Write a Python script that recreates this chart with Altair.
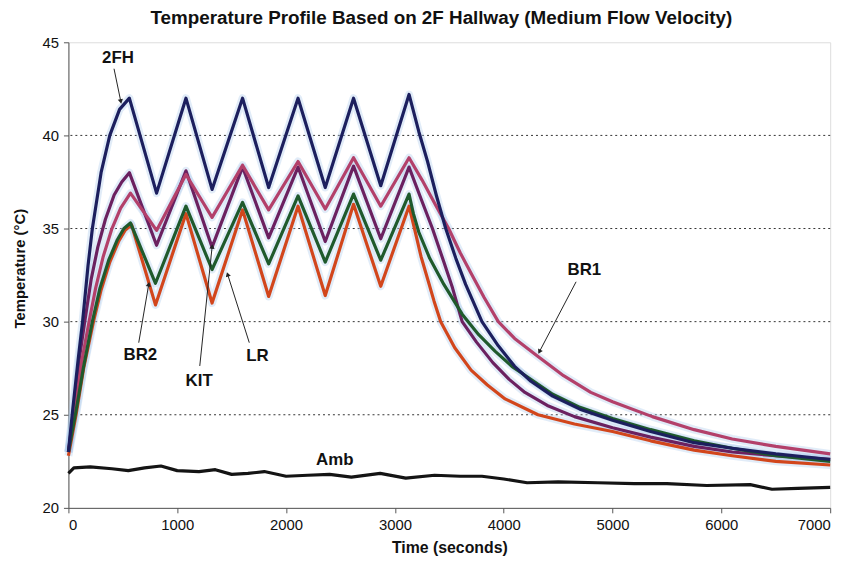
import math
import altair as alt
import pandas as pd

FONT = "Liberation Sans, Arial, sans-serif"

# ---------------- data ----------------
fh_t = [0, 40, 90, 130, 180, 220, 300, 380, 470, 560, 810, 1080, 1320, 1600, 1840, 2110, 2360,
        2620, 2870, 3130, 3220, 3300, 3380, 3467, 3560, 3650, 3800, 3950, 4100, 4250, 4450,
        4700, 5000, 5350, 5750, 6100, 6500, 7000]
fh_v = [23.0, 25.3, 28.0, 30.0, 33.0, 35.0, 38.0, 40.0, 41.4, 42.0, 36.9, 42.0, 37.1, 42.0, 37.2,
        42.0, 37.2, 42.0, 37.3, 42.2, 40.2, 38.6, 36.8, 35.0, 33.4, 32.0, 30.0, 28.7, 27.6, 26.8,
        26.0, 25.3, 24.7, 24.1, 23.5, 23.2, 22.9, 22.6]

kit_t = [0, 50, 100, 150, 210, 270, 340, 420, 490, 560, 810, 1080, 1320, 1600, 1840, 2110, 2360,
         2620, 2870, 3130, 3240, 3345, 3450, 3530, 3618, 3750, 3900, 4050, 4195, 4400, 4650,
         5000, 5350, 5750, 6100, 6500, 7000]
kit_v = [23.0, 25.3, 28.0, 30.0, 32.3, 34.0, 35.5, 36.8, 37.5, 38.0, 34.1, 38.1, 34.0, 38.3, 34.5,
         38.3, 34.3, 38.35, 34.45, 38.3, 36.6, 35.0, 33.2, 31.8, 30.0, 28.9, 27.8, 26.9, 26.2,
         25.5, 24.9, 24.3, 23.8, 23.3, 23.0, 22.8, 22.6]

br1_t = [0, 60, 120, 190, 250, 320, 400, 480, 570, 810, 1080, 1320, 1600, 1840, 2110, 2360, 2620,
         2870, 3130, 3250, 3380, 3494, 3600, 3700, 3820, 3950, 4100, 4300, 4550, 4800, 5000,
         5365, 5750, 6100, 6500, 7000]
br1_v = [23.0, 25.2, 27.8, 30.0, 31.8, 33.5, 35.0, 36.1, 36.9, 34.9, 37.9, 35.6, 38.4, 36.0, 38.6,
         36.05, 38.8, 36.2, 38.8, 37.6, 36.2, 35.0, 33.7, 32.6, 31.3, 30.0, 29.1, 28.2, 27.1,
         26.2, 25.7, 24.9, 24.2, 23.7, 23.3, 22.9]

br2_t = [0, 70, 140, 220, 290, 370, 450, 510, 570, 800, 1080, 1320, 1600, 1840, 2110, 2360, 2620,
         2870, 3130, 3170, 3220, 3320, 3450, 3618, 3770, 3922, 4075, 4225, 4450, 4700, 5000,
         5350, 5750, 6100, 6500, 7000]
br2_v = [23.0, 25.2, 27.6, 30.0, 31.8, 33.3, 34.4, 35.0, 35.3, 32.06, 36.2, 32.8, 36.4, 33.1, 36.75,
         33.2, 36.85, 33.3, 36.85, 35.8, 34.8, 33.4, 32.0, 30.4, 29.3, 28.4, 27.6, 27.0, 26.1,
         25.4, 24.8, 24.2, 23.6, 23.2, 22.8, 22.5]

lr_t = [0, 70, 140, 230, 300, 380, 460, 520, 580, 800, 1080, 1320, 1600, 1840, 2110, 2360, 2620,
        2870, 3130, 3180, 3240, 3300, 3360, 3421, 3550, 3700, 3850, 4013, 4315, 4650, 5000,
        5350, 5750, 6100, 6500, 7000]
lr_v = [22.8, 25.0, 27.5, 30.0, 31.7, 33.2, 34.3, 34.9, 35.2, 30.9, 35.8, 31.0, 36.0, 31.35, 36.2,
        31.4, 36.3, 31.9, 36.2, 35.0, 33.5, 32.3, 31.1, 30.0, 28.6, 27.4, 26.6, 25.85, 25.0,
        24.5, 24.1, 23.6, 23.1, 22.8, 22.5, 22.3]

amb_t = [0, 50, 200, 400, 550, 700, 850, 1000, 1200, 1350, 1500, 1650, 1800, 2000, 2200, 2400,
         2600, 2865, 3100, 3365, 3600, 3800, 4000, 4215, 4500, 4865, 5200, 5500, 5865, 6265,
         6465, 6700, 7000]
amb_v = [21.85, 22.15, 22.2, 22.1, 22.0, 22.15, 22.25, 22.0, 21.95, 22.05, 21.8, 21.85, 21.95,
         21.7, 21.75, 21.8, 21.65, 21.85, 21.6, 21.75, 21.7, 21.7, 21.55, 21.35, 21.4, 21.35,
         21.3, 21.3, 21.2, 21.25, 21.0, 21.05, 21.1]

series_names = ["Amb", "LR", "KIT", "BR1", "BR2", "2FH"]
series_t = [amb_t, lr_t, kit_t, br1_t, br2_t, fh_t]
series_v = [amb_v, lr_v, kit_v, br1_v, br2_v, fh_v]
series_colors = ["#141414", "#d2461c", "#6b2160", "#b3406a", "#1f5a2c", "#1c1f5e"]
halo_series = ["LR", "KIT", "BR1", "BR2", "2FH"]

# labels and arrows (data coordinates)
label_text = ["2FH", "BR1", "BR2", "KIT", "LR", "Amb"]
label_x = [455, 4741, 661, 1201, 1738, 2448]
label_y = [44.15, 32.77, 28.19, 26.8, 28.17, 22.55]

arrow_x1 = [419, 4665, 646, 1207, 1662]
arrow_y1 = [43.58, 32.14, 28.87, 27.62, 28.87]
arrow_x2 = [480, 4331, 737, 1320, 1465]
arrow_y2 = [41.86, 28.42, 31.97, 34.0, 32.5]

grid_vals = [25, 30, 35, 40]
x_ticks = [0, 1000, 2000, 3000, 4000, 5000, 6000, 7000]
y_ticks = [20, 25, 30, 35, 40, 45]

# ---------------- chart ----------------
W, H = 769, 470
X_DOM = [0, 7000]
Y_DOM = [20, 45]
xs = alt.Scale(domain=X_DOM, nice=False, zero=False)
ys = alt.Scale(domain=Y_DOM, nice=False, zero=False)

x_axis = alt.Axis(values=x_ticks, title="Time (seconds)", grid=False, format="d",
                  labelFont=FONT, labelFontSize=15, labelColor="#111", labelPadding=5,
                  titleFont=FONT, titleFontSize=16, titleFontWeight="bold", titleColor="#111",
                  titlePadding=7, tickSize=5, tickColor="#555", domainColor="#555")
y_axis = alt.Axis(values=y_ticks, title="Temperature (°C)", grid=False, format="d",
                  labelFont=FONT, labelFontSize=15, labelColor="#111", labelPadding=5,
                  titleFont=FONT, titleFontSize=15, titleFontWeight="bold", titleColor="#111",
                  titleX=-49, titleY=228, titleAngle=270, titleAlign="center",
                  titleBaseline="middle",
                  tickSize=5, tickColor="#555", domainColor="#555")


def X(field):
    return alt.X(field, scale=xs, axis=x_axis)


def Y(field):
    return alt.Y(field, scale=ys, axis=y_axis)


grid = alt.Chart(pd.DataFrame({"y": grid_vals})).mark_rule(
    color="#333", strokeDash=[2, 3], strokeWidth=1
).encode(y=Y("y:Q"))

layers = [grid]
# faint light-blue halo of scattered raw readings around the lines
for name, tt, vv in zip(series_names, series_t, series_v):
    if name in halo_series:
        df = pd.DataFrame({"t": tt, "v": vv})
        layers.append(
            alt.Chart(df).mark_line(color="#a9c8ec", strokeWidth=8, opacity=0.35,
                                    strokeJoin="round").encode(x=X("t:Q"), y=Y("v:Q"))
        )
for name, tt, vv, col in zip(series_names, series_t, series_v, series_colors):
    df = pd.DataFrame({"t": tt, "v": vv})
    layers.append(
        alt.Chart(df).mark_line(color=col, strokeWidth=3.2, strokeJoin="round").encode(
            x=X("t:Q"), y=Y("v:Q"),
        )
    )

arrows = pd.DataFrame({"x1": arrow_x1, "y1": arrow_y1, "x2": arrow_x2, "y2": arrow_y2})
sx = W / (X_DOM[1] - X_DOM[0])
sy = H / (Y_DOM[1] - Y_DOM[0])
arrows["ang"] = [
    (math.degrees(math.atan2((b - a) * sx, (d - c) * sy)) + 360) % 360
    for a, b, c, d in zip(arrow_x1, arrow_x2, arrow_y1, arrow_y2)
]
layers.append(
    alt.Chart(arrows).mark_rule(color="#222", strokeWidth=1).encode(
        x=X("x1:Q"), x2="x2:Q", y=Y("y1:Q"), y2="y2:Q",
    )
)
layers.append(
    alt.Chart(arrows).mark_point(shape="triangle", filled=True, color="#222", size=28,
                                 opacity=1).encode(
        x=X("x2:Q"), y=Y("y2:Q"),
        angle=alt.Angle("ang:Q", scale=None),
    )
)

labels = pd.DataFrame({"txt": label_text, "x": label_x, "y": label_y})
layers.append(
    alt.Chart(labels).mark_text(font=FONT, fontSize=17, fontWeight="bold", color="#111",
                                align="center", baseline="middle").encode(
        x=X("x:Q"), y=Y("y:Q"), text="txt:N",
    )
)

chart = alt.layer(*layers).properties(
    width=W, height=H,
    title=alt.TitleParams("Temperature Profile Based on 2F Hallway (Medium Flow Velocity)",
                          font=FONT, fontSize=19, fontWeight="bold", color="#111",
                          anchor="middle", offset=7, dx=-8),
    autosize=alt.AutoSizeParams(type="none"),
    padding={"left": 61, "top": 32, "right": 20, "bottom": 50},
).configure_view(stroke="#888", strokeWidth=1).configure(background="white")

chart.save("out.html", embed_options={"renderer": "svg", "actions": False})
